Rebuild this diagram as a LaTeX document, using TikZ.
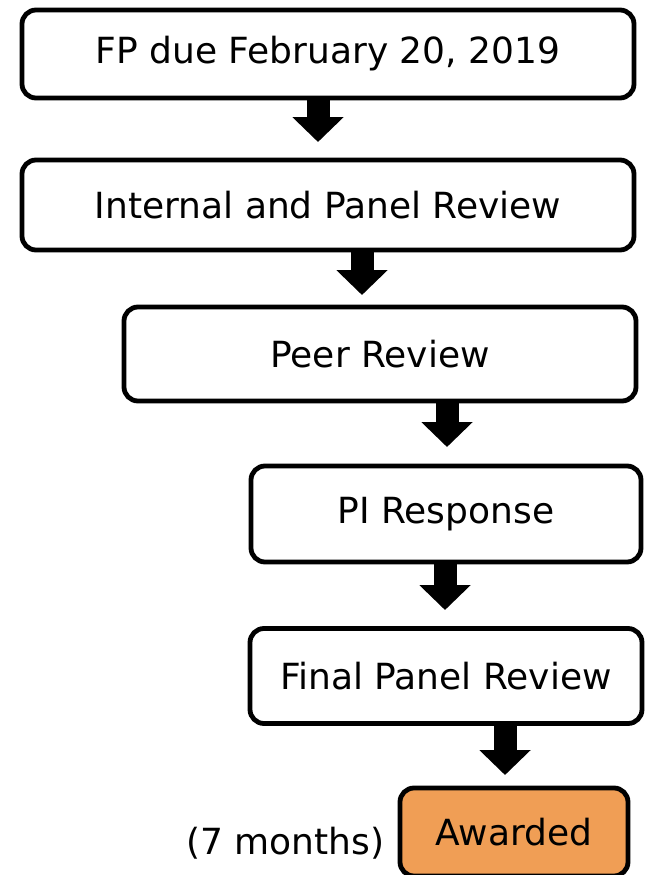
\documentclass[tikz,border=0pt]{standalone}
\usepackage{fontspec}
\setmainfont{DejaVu Sans}
\usepackage{xcolor}
\usetikzlibrary{arrows.meta}
\usetikzlibrary{positioning}
\definecolor{awardorange}{HTML}{F09E55}

\tikzset{
  stagebox/.style={draw=black,line width=4.8pt,rounded corners=14pt,fill=white,
    inner sep=0pt,font=\fontsize{36}{43}\selectfont},
  blockarrow/.style={line width=23pt,-{Triangle[width=50pt,length=25pt]}}
}

\begin{document}
\begin{tikzpicture}[x=1pt,y=-1pt]
\useasboundingbox (0,0) rectangle (650,875);
\node[stagebox,minimum width=612pt,minimum height=88pt] (fp) at (328,54) {FP due February 20, 2019};
\node[stagebox,minimum width=612pt,minimum height=90pt] (internal) at (328,205) {Internal and Panel Review};
\node[stagebox,minimum width=512pt,minimum height=94pt] (peer) at (380,354) {Peer Review};
\node[stagebox,minimum width=390pt,minimum height=96pt] (pi) at (446,514) {PI Response};
\node[stagebox,minimum width=392pt,minimum height=95pt] (final) at (446,676) {Final Panel Review};
\node[stagebox,fill=awardorange,minimum width=228pt,minimum height=88pt] (awarded) at (514,832) {Awarded};
\node[font=\fontsize{36}{43}\selectfont,anchor=east] (months) at (388,843) {(7 months)};
% arrow tips
\coordinate (t1) at (318,142);
\coordinate (t2) at (362,295);
\coordinate (t3) at (447,447);
\coordinate (t4) at (445,610);
\coordinate (t5) at (505,775);
\draw[blockarrow] (t1 |- fp.south) -- (t1);
\draw[blockarrow] (t2 |- internal.south) -- (t2);
\draw[blockarrow] (t3 |- peer.south) -- (t3);
\draw[blockarrow] (t4 |- pi.south) -- (t4);
\draw[blockarrow] (t5 |- final.south) -- (t5);
\end{tikzpicture}
\end{document}
